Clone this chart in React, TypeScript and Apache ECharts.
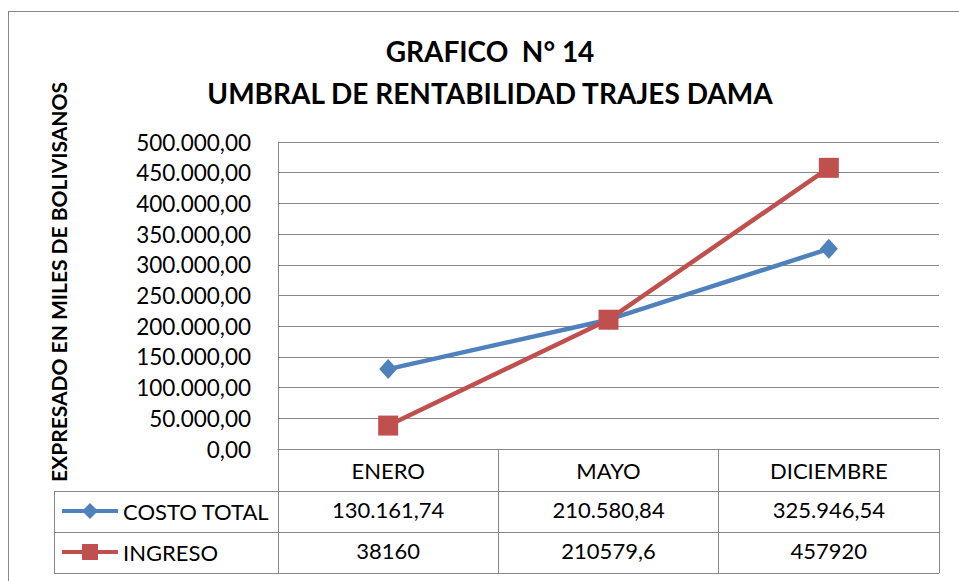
import React, { useEffect, useRef } from "react";
import * as echarts from "echarts";

const categories = ["ENERO", "MAYO", "DICIEMBRE"];
const costoTotal = [130161.74, 210580.84, 325946.54];
const ingreso = [38160, 210579.6, 457920];
const seriesNames = ["COSTO TOTAL", "INGRESO"];
const titleLines = ["GRAFICO  N° 14", "UMBRAL DE RENTABILIDAD TRAJES DAMA"];
const yAxisTitle = "EXPRESADO EN MILES DE BOLIVISANOS";
const yMin = 0;
const yMax = 500000;
const yStep = 50000;

const FONT = "Lato, 'Noto Sans', sans-serif";
const GRID_COLOR = "#878787";
const BLUE = "#4F81BD";
const RED = "#C0504D";

function fmtGrouped(v: number, decimals: number): string {
  const fixed = v.toFixed(decimals);
  const parts = fixed.split(".");
  const g = parts[0].replace(/\B(?=(\d{3})+(?!\d))/g, ".");
  return parts[1] ? g + "," + parts[1] : g;
}
function fmtPlain(v: number): string {
  return String(v).replace(".", ",");
}

// layout
const GRID_LEFT = 278;
const GRID_RIGHT_X = 939;
const GRID_TOP = 142;
const GRID_BOTTOM_Y = 449;
const ROW_H = 41;
const TABLE_LEFT = 54;
const W = 959;
const H = 581;

export default function App() {
  const ref = useRef<HTMLDivElement>(null);
  useEffect(() => {
    if (!ref.current) return;
    const chart = echarts.init(ref.current, undefined, { renderer: "svg" });
    const labelStyle = { color: "#000", fontFamily: FONT, fontSize: 22 };
    const row1Y = GRID_BOTTOM_Y + 42;
    const row2Y = row1Y + ROW_H;
    const row3Y = row2Y + ROW_H;
    const hLine = (y: number) => ({
      type: "line",
      silent: true,
      shape: { x1: TABLE_LEFT, y1: y + 0.5, x2: GRID_RIGHT_X, y2: y + 0.5 },
      style: { stroke: GRID_COLOR, lineWidth: 1 },
    });
    chart.setOption({
      animation: false,
      backgroundColor: "#fff",
      grid: {
        left: GRID_LEFT,
        right: W - GRID_RIGHT_X,
        top: GRID_TOP,
        bottom: H - GRID_BOTTOM_Y,
        containLabel: false,
      },
      legend: {
        orient: "vertical",
        left: 60,
        top: row1Y + 9,
        padding: 0,
        itemWidth: 56,
        itemHeight: 20,
        itemGap: 19,
        selectedMode: false,
        lineStyle: { width: 4 },
        textStyle: { ...labelStyle },
        data: seriesNames,
      },
      xAxis: [
        {
          type: "category",
          data: categories,
          position: "bottom",
          boundaryGap: true,
          axisLine: { show: true, lineStyle: { color: GRID_COLOR, width: 1 } },
          axisTick: {
            show: true,
            interval: 0,
            alignWithLabel: false,
            length: row3Y - GRID_BOTTOM_Y,
            lineStyle: { color: GRID_COLOR, width: 1 },
          },
          axisLabel: { ...labelStyle, interval: 0, margin: 10 },
          splitLine: { show: false },
        },
        {
          type: "category",
          data: costoTotal.map((v) => fmtGrouped(v, 2)),
          position: "bottom",
          offset: 39,
          boundaryGap: true,
          axisLine: { show: false },
          axisTick: { show: false },
          axisLabel: { ...labelStyle, interval: 0, margin: 10 },
          splitLine: { show: false },
        },
        {
          type: "category",
          data: ingreso.map(fmtPlain),
          position: "bottom",
          offset: 39 + ROW_H,
          boundaryGap: true,
          axisLine: { show: false },
          axisTick: { show: false },
          axisLabel: { ...labelStyle, interval: 0, margin: 10 },
          splitLine: { show: false },
        },
      ],
      yAxis: {
        type: "value",
        min: yMin,
        max: yMax,
        interval: yStep,
        axisLine: { show: true, lineStyle: { color: GRID_COLOR, width: 1 } },
        axisTick: { show: false },
        splitLine: { show: true, lineStyle: { color: GRID_COLOR, width: 1 } },
        axisLabel: { ...labelStyle, fontSize: 22.5, margin: 27, formatter: (v: number) => fmtGrouped(v, 2) },
      },
      series: [
        {
          name: seriesNames[0],
          type: "line",
          xAxisIndex: 0,
          data: costoTotal,
          symbol: "diamond",
          symbolSize: [18, 20],
          color: BLUE,
          itemStyle: { color: BLUE },
          lineStyle: { color: BLUE, width: 4.5 },
        },
        {
          name: seriesNames[1],
          type: "line",
          xAxisIndex: 0,
          data: ingreso,
          symbol: "rect",
          symbolSize: 20,
          color: RED,
          itemStyle: { color: RED },
          lineStyle: { color: RED, width: 4.5 },
        },
      ],
      graphic: [
        {
          type: "line",
          silent: true,
          shape: { x1: 8, y1: 11.5, x2: W, y2: 11.5 },
          style: { stroke: GRID_COLOR, lineWidth: 1 },
        },
        {
          type: "line",
          silent: true,
          shape: { x1: 8.5, y1: 11, x2: 8.5, y2: H },
          style: { stroke: GRID_COLOR, lineWidth: 1 },
        },
        hLine(row1Y),
        hLine(row2Y),
        hLine(row3Y),
        {
          type: "line",
          silent: true,
          shape: { x1: TABLE_LEFT + 0.5, y1: row1Y, x2: TABLE_LEFT + 0.5, y2: row3Y + 1 },
          style: { stroke: GRID_COLOR, lineWidth: 1 },
        },
        {
          type: "text",
          x: 490,
          y: 51,
          style: {
            text: titleLines[0],
            fontFamily: FONT,
            fontWeight: "bold",
            fontSize: 28,
            fill: "#000",
            textAlign: "center",
            textVerticalAlign: "middle",
          },
        },
        {
          type: "text",
          x: 490,
          y: 93,
          style: {
            text: titleLines[1],
            fontFamily: FONT,
            fontWeight: "bold",
            fontSize: 28,
            fill: "#000",
            textAlign: "center",
            textVerticalAlign: "middle",
          },
        },
        {
          type: "text",
          x: 58,
          y: 282,
          rotation: Math.PI / 2,
          style: {
            text: yAxisTitle,
            fontFamily: FONT,
            fontWeight: "bold",
            fontSize: 21,
            fill: "#000",
            textAlign: "center",
            textVerticalAlign: "middle",
          },
        },
      ],
    });
    return () => chart.dispose();
  }, []);
  return (
    <div
      ref={ref}
      style={{ position: "fixed", left: 0, top: 0, width: W, height: H }}
    />
  );
}
